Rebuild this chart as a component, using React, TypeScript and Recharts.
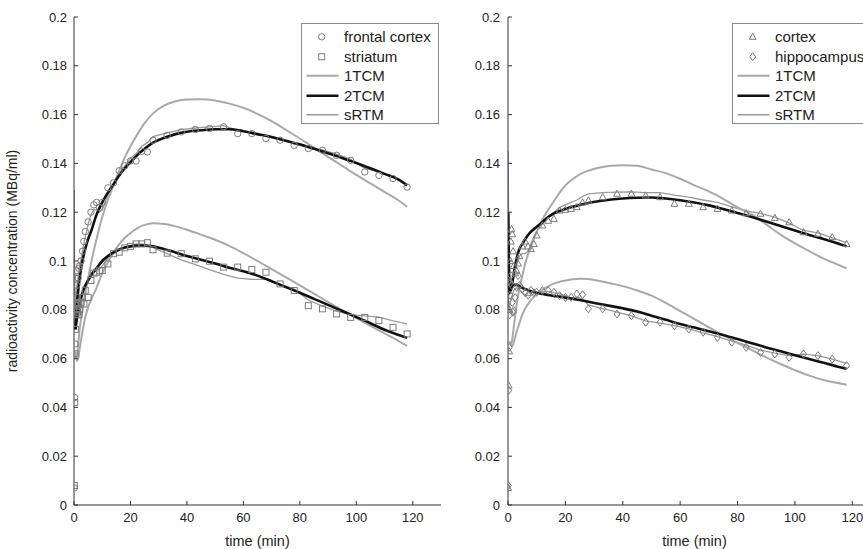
import React from 'react';
import { ComposedChart, Line, Scatter, XAxis, YAxis, Legend } from 'recharts';

// PET frame mid-times (min) for measured data and sRTM fits
const frameTimes = [0.1, 0.25, 0.4, 0.55, 0.7, 0.85, 1, 1.25, 1.5, 1.75, 2, 2.5, 3, 3.5, 4, 5, 6, 7, 8, 9, 10, 12, 14, 16, 18, 20, 22, 24, 26, 28, 33, 38, 43, 48, 53, 58, 63, 68, 73, 78, 83, 88, 93, 98, 103, 108, 113, 118];

// left panel measured data
const frontalCortex = [0.007, 0.044, 0.066, 0.082, 0.093, 0.096, 0.09, 0.085, 0.093, 0.097, 0.098, 0.1, 0.104, 0.108, 0.112, 0.116, 0.12, 0.123, 0.124, 0.122, 0.124, 0.13, 0.132, 0.137, 0.139, 0.141, 0.141, 0.145, 0.1447, 0.1495, 0.1515, 0.1529, 0.1539, 0.1543, 0.155, 0.1522, 0.1522, 0.1502, 0.1495, 0.1474, 0.1461, 0.1454, 0.1433, 0.1413, 0.1365, 0.1351, 0.1338, 0.1303];
const striatum = [0.008, 0.042, 0.062, 0.072, 0.078, 0.08, 0.083, 0.079, 0.082, 0.078, 0.08, 0.083, 0.085, 0.0824, 0.088, 0.0851, 0.092, 0.095, 0.0954, 0.096, 0.0961, 0.0988, 0.103, 0.1036, 0.1054, 0.106, 0.107, 0.107, 0.1075, 0.1046, 0.1032, 0.103, 0.1009, 0.0999, 0.0975, 0.0975, 0.0965, 0.0954, 0.0906, 0.0879, 0.0817, 0.0804, 0.0783, 0.0769, 0.0769, 0.0756, 0.0728, 0.0701];

// right panel measured data
const cortex = [0.007, 0.049, 0.063, 0.08, 0.092, 0.1, 0.108, 0.113, 0.111, 0.104, 0.098, 0.095, 0.096, 0.099, 0.102, 0.106, 0.108, 0.106, 0.105, 0.107, 0.1105, 0.1146, 0.1165, 0.1173, 0.1207, 0.121, 0.1214, 0.1221, 0.124, 0.1248, 0.1262, 0.1276, 0.1276, 0.1269, 0.1262, 0.1235, 0.1235, 0.1221, 0.1214, 0.1207, 0.1196, 0.1194, 0.1177, 0.1159, 0.1118, 0.1112, 0.1098, 0.107];
const hippocampus = [0.008, 0.047, 0.0646, 0.078, 0.086, 0.091, 0.094, 0.09, 0.083, 0.079, 0.0797, 0.085, 0.0892, 0.094, 0.09, 0.0885, 0.087, 0.086, 0.088, 0.087, 0.0872, 0.0879, 0.0879, 0.0872, 0.0858, 0.0851, 0.0851, 0.0865, 0.0862, 0.0804, 0.0804, 0.0783, 0.0776, 0.0749, 0.0749, 0.0735, 0.0721, 0.0708, 0.0687, 0.0667, 0.0646, 0.0625, 0.0619, 0.0605, 0.0619, 0.0612, 0.0598, 0.0571];

// sRTM fits (on frame times)
const frontalSrtm = [0.129, 0.09, 0.079, 0.082, 0.086, 0.089, 0.09, 0.091, 0.094, 0.096, 0.098, 0.101, 0.104, 0.107, 0.11, 0.115, 0.119, 0.121, 0.121, 0.12, 0.121, 0.127, 0.131, 0.136, 0.139, 0.142, 0.144, 0.147, 0.1485, 0.151, 0.1525, 0.1538, 0.1545, 0.155, 0.1555, 0.1535, 0.1527, 0.151, 0.15, 0.148, 0.1465, 0.1455, 0.1438, 0.1418, 0.138, 0.1365, 0.1345, 0.1315];
const striatumSrtm = [0.106, 0.08, 0.074, 0.075, 0.076, 0.077, 0.078, 0.079, 0.08, 0.081, 0.082, 0.084, 0.086, 0.088, 0.09, 0.093, 0.095, 0.096, 0.096, 0.0965, 0.098, 0.101, 0.103, 0.1045, 0.1055, 0.1063, 0.107, 0.107, 0.1065, 0.1055, 0.103, 0.1005, 0.0985, 0.0965, 0.0945, 0.093, 0.0925, 0.0925, 0.0905, 0.0885, 0.084, 0.0815, 0.0795, 0.078, 0.0775, 0.077, 0.0755, 0.0742];
const cortexSrtm = [0.145, 0.1, 0.088, 0.086, 0.087, 0.088, 0.089, 0.09, 0.091, 0.092, 0.093, 0.096, 0.098, 0.1, 0.102, 0.103, 0.103, 0.104, 0.107, 0.11, 0.112, 0.115, 0.118, 0.12, 0.122, 0.123, 0.124, 0.125, 0.1265, 0.1275, 0.128, 0.1282, 0.1283, 0.128, 0.128, 0.127, 0.1262, 0.125, 0.124, 0.1222, 0.1205, 0.1195, 0.118, 0.1155, 0.1125, 0.1115, 0.1095, 0.1075];
const hippocampusSrtm = [0.092, 0.082, 0.08, 0.081, 0.082, 0.083, 0.084, 0.085, 0.086, 0.087, 0.088, 0.0885, 0.089, 0.0885, 0.088, 0.087, 0.086, 0.0858, 0.086, 0.0865, 0.087, 0.0875, 0.0875, 0.087, 0.0865, 0.0858, 0.085, 0.0852, 0.0845, 0.082, 0.0805, 0.079, 0.0775, 0.0755, 0.0745, 0.0735, 0.0722, 0.0705, 0.069, 0.0672, 0.0655, 0.0635, 0.0622, 0.0612, 0.0618, 0.0612, 0.0598, 0.058];

// compartment model fits (smooth time grid)
const modelTimes = [0.1, 0.3, 0.5, 1, 1.5, 2, 3, 4, 5, 6, 8, 10, 12, 14, 16, 18, 20, 22.5, 25, 28, 32, 36, 40, 45, 50, 55, 60, 65, 70, 75, 80, 85, 90, 95, 100, 105, 110, 115, 118];
const frontal2tcm = [null, null, 0.072, 0.082, 0.088, 0.093, 0.1, 0.105, 0.109, 0.112, 0.119, 0.124, 0.128, 0.1315, 0.135, 0.138, 0.1405, 0.1435, 0.146, 0.1485, 0.1505, 0.152, 0.153, 0.1536, 0.154, 0.154, 0.1532, 0.152, 0.1508, 0.1493, 0.1478, 0.146, 0.1442, 0.1422, 0.1402, 0.138, 0.1357, 0.1334, 0.131];
const striatum2tcm = [null, null, 0.072, 0.076, 0.079, 0.082, 0.087, 0.09, 0.092, 0.094, 0.097, 0.1, 0.102, 0.1035, 0.1047, 0.1055, 0.106, 0.1063, 0.1063, 0.106, 0.1048, 0.1035, 0.102, 0.1005, 0.099, 0.0972, 0.0958, 0.094, 0.0917, 0.0893, 0.087, 0.0845, 0.082, 0.0795, 0.077, 0.0745, 0.0718, 0.0697, 0.0685];
const frontal1tcm = [null, null, 0.062, 0.061, 0.066, 0.072, 0.08, 0.087, 0.093, 0.099, 0.109, 0.118, 0.125, 0.131, 0.137, 0.1425, 0.147, 0.152, 0.1565, 0.1605, 0.1638, 0.1655, 0.1662, 0.1663, 0.1658, 0.1645, 0.1628, 0.1603, 0.1573, 0.1538, 0.1502, 0.1465, 0.1427, 0.139, 0.1353, 0.1318, 0.1283, 0.1248, 0.1222];
const striatum1tcm = [null, null, 0.063, 0.059, 0.06, 0.064, 0.071, 0.077, 0.081, 0.084, 0.089, 0.095, 0.0995, 0.1035, 0.1068, 0.1095, 0.1115, 0.1135, 0.1148, 0.1155, 0.1152, 0.1142, 0.1128, 0.1108, 0.1087, 0.1062, 0.1032, 0.1, 0.0967, 0.0934, 0.09, 0.0866, 0.0832, 0.0799, 0.0766, 0.0734, 0.0703, 0.0672, 0.0652];
const cortex2tcm = [0.12, 0.1, 0.09, 0.088, 0.091, 0.095, 0.101, 0.105, 0.107, 0.109, 0.112, 0.114, 0.116, 0.118, 0.1195, 0.1205, 0.1213, 0.1222, 0.123, 0.1238, 0.1246, 0.1252, 0.1256, 0.1259, 0.126, 0.1256, 0.1249, 0.124, 0.1228, 0.1213, 0.1197, 0.118, 0.1162, 0.1143, 0.1125, 0.1107, 0.109, 0.1072, 0.106];
const hippocampus2tcm = [null, 0.09, 0.087, 0.089, 0.0898, 0.0902, 0.0902, 0.0896, 0.089, 0.0885, 0.0876, 0.087, 0.0865, 0.0861, 0.0857, 0.0854, 0.085, 0.0845, 0.084, 0.0833, 0.0824, 0.0815, 0.0806, 0.0793, 0.0776, 0.0759, 0.0742, 0.0727, 0.0712, 0.0697, 0.068, 0.0663, 0.0646, 0.063, 0.0614, 0.0598, 0.0583, 0.0567, 0.0558];
const cortex1tcm = [null, null, 0.067, 0.066, 0.068, 0.0728, 0.082, 0.089, 0.094, 0.099, 0.106, 0.112, 0.117, 0.121, 0.1245, 0.128, 0.131, 0.1335, 0.1355, 0.137, 0.1383, 0.139, 0.1392, 0.139, 0.1375, 0.136, 0.1337, 0.131, 0.1285, 0.1255, 0.122, 0.119, 0.115, 0.1108, 0.1072, 0.104, 0.101, 0.0985, 0.097];
const hippocampus1tcm = [null, null, 0.067, 0.066, 0.065, 0.0667, 0.071, 0.0745, 0.078, 0.0805, 0.084, 0.0865, 0.0883, 0.0896, 0.0907, 0.0915, 0.092, 0.0925, 0.0927, 0.0926, 0.0918, 0.0908, 0.0897, 0.0879, 0.0858, 0.0828, 0.0795, 0.0762, 0.0728, 0.0695, 0.0665, 0.0635, 0.0605, 0.0578, 0.0553, 0.053, 0.0512, 0.05, 0.0493];

const xTicks = [0, 20, 40, 60, 80, 100, 120];
const yTicks = [0, 0.02, 0.04, 0.06, 0.08, 0.1, 0.12, 0.14, 0.16, 0.18, 0.2];

const leftLegend = ['frontal cortex', 'striatum', '1TCM', '2TCM', 'sRTM'];
const rightLegend = ['cortex', 'hippocampus', '1TCM', '2TCM', 'sRTM'];

const pts = (ts: number[], vs: (number | null)[]) =>
  ts.map((t, i) => ({ t, v: vs[i] })).filter((d) => d.v !== null && d.v !== undefined);

const MARK = '#7c7c7c';
const GRAY1 = '#a9a9a9';
const GRAY2 = '#9a9a9a';
const BLACK = '#111';
const FONT = '"Liberation Sans", Arial, Helvetica, sans-serif';

type MarkKind = 'circle' | 'square' | 'triangle' | 'diamond';

function markerEl(kind: MarkKind, cx: number, cy: number, key?: any) {
  const common = { fill: 'none', stroke: MARK, strokeWidth: 1 } as any;
  if (kind === 'circle') return <circle key={key} cx={cx} cy={cy} r={3.2} {...common} />;
  if (kind === 'square') return <rect key={key} x={cx - 3} y={cy - 3} width={6} height={6} {...common} />;
  if (kind === 'triangle')
    return <path key={key} d={`M${cx},${cy - 3.6}L${cx + 3.4},${cy + 2.6}L${cx - 3.4},${cy + 2.6}Z`} {...common} />;
  return <path key={key} d={`M${cx},${cy - 4}L${cx + 3},${cy}L${cx},${cy + 4}L${cx - 3},${cy}Z`} {...common} />;
}

const shapeFor = (kind: MarkKind) => (p: any) => {
  if (p.cx == null || p.cy == null) return <g />;
  return markerEl(kind, p.cx, p.cy);
};

function LegendBox({ labels, markA, markB }: { labels: string[]; markA: MarkKind; markB: MarkKind }) {
  const rowH = 19.5;
  return (
    <div
      style={{
        position: 'relative',
        width: 136,
        height: 99,
        border: '1px solid #8c8c8c',
        background: '#fff',
        fontFamily: FONT,
        fontSize: 15,
        color: '#222',
      }}
    >
      {labels.map((lab, i) => (
        <div key={i} style={{ position: 'absolute', left: 0, top: 3 + i * rowH, height: rowH, width: 200 }}>
          <svg width={40} height={rowH} style={{ position: 'absolute', left: 0, top: 0 }}>
            {i === 0 && markerEl(markA, 19.7, rowH / 2)}
            {i === 1 && markerEl(markB, 19.7, rowH / 2)}
            {i === 2 && <line x1={4.5} x2={36.5} y1={rowH / 2} y2={rowH / 2} stroke={GRAY1} strokeWidth={2} />}
            {i === 3 && <line x1={4.5} x2={36.5} y1={rowH / 2} y2={rowH / 2} stroke={BLACK} strokeWidth={2.6} />}
            {i === 4 && <line x1={4.5} x2={36.5} y1={rowH / 2} y2={rowH / 2} stroke={GRAY2} strokeWidth={1.3} />}
          </svg>
          <span style={{ position: 'absolute', left: 42, top: 0, lineHeight: `${rowH}px`, whiteSpace: 'nowrap' }}>
            {lab}
          </span>
        </div>
      ))}
    </div>
  );
}

interface PanelProps {
  left: number;
  yAxisWidth: number;
  yTickMargin: number;
  showYLabel: boolean;
  dataA: number[];
  dataB: number[];
  markA: MarkKind;
  markB: MarkKind;
  srtmA: number[];
  srtmB: number[];
  tcm1A: (number | null)[];
  tcm1B: (number | null)[];
  tcm2A: (number | null)[];
  tcm2B: (number | null)[];
  labels: string[];
  legendLeft: number;
}

function Panel(p: PanelProps) {
  const tick = { fill: '#222', fontSize: 13, fontFamily: FONT };
  return (
    <div style={{ position: 'absolute', left: p.left, top: 0 }}>
      <ComposedChart width={450} height={549} margin={{ top: 17, right: 9, bottom: 0, left: 0 }}>
        <XAxis
          type="number"
          dataKey="t"
          domain={[0, 130]}
          ticks={xTicks}
          allowDataOverflow
          height={44}
          tick={tick}
          tickSize={-4}
          tickMargin={12}
          stroke="#333"
          label={{ value: 'time (min)', position: 'insideBottom', offset: 3, fill: '#222', fontSize: 14.5 }}
        />
        <YAxis
          type="number"
          dataKey="v"
          domain={[0, 0.2]}
          ticks={yTicks}
          allowDataOverflow
          width={p.yAxisWidth}
          tick={tick}
          tickSize={-4}
          tickMargin={p.yTickMargin}
          stroke="#333"
          label={
            p.showYLabel
              ? {
                  value: 'radioactivity concentration (MBq/ml)',
                  angle: -90,
                  position: 'insideLeft',
                  offset: 12,
                  fill: '#222',
                  fontSize: 14,
                  style: { textAnchor: 'middle' },
                }
              : undefined
          }
        />
        <Scatter data={pts(frameTimes, p.dataA)} dataKey="v" shape={shapeFor(p.markA)} isAnimationActive={false} />
        <Scatter data={pts(frameTimes, p.dataB)} dataKey="v" shape={shapeFor(p.markB)} isAnimationActive={false} />
        <Line data={pts(frameTimes, p.srtmA)} dataKey="v" type="linear" stroke={GRAY2} strokeWidth={1.3} dot={false} activeDot={false} isAnimationActive={false} />
        <Line data={pts(frameTimes, p.srtmB)} dataKey="v" type="linear" stroke={GRAY2} strokeWidth={1.3} dot={false} activeDot={false} isAnimationActive={false} />
        <Line data={pts(modelTimes, p.tcm1A)} dataKey="v" type="monotone" stroke={GRAY1} strokeWidth={2} dot={false} activeDot={false} isAnimationActive={false} />
        <Line data={pts(modelTimes, p.tcm1B)} dataKey="v" type="monotone" stroke={GRAY1} strokeWidth={2} dot={false} activeDot={false} isAnimationActive={false} />
        <Line data={pts(modelTimes, p.tcm2A)} dataKey="v" type="monotone" stroke={BLACK} strokeWidth={2.6} dot={false} activeDot={false} isAnimationActive={false} />
        <Line data={pts(modelTimes, p.tcm2B)} dataKey="v" type="monotone" stroke={BLACK} strokeWidth={2.6} dot={false} activeDot={false} isAnimationActive={false} />
        <Legend
          layout="vertical"
          align="center"
          verticalAlign="middle"
          wrapperStyle={{ left: p.legendLeft, top: 23, width: 138, height: 101 }}
          content={() => <LegendBox labels={p.labels} markA={p.markA} markB={p.markB} />}
        />
      </ComposedChart>
    </div>
  );
}

export default function App() {
  return (
    <div
      style={{
        position: 'absolute',
        left: 0,
        top: 0,
        width: 863,
        height: 549,
        overflow: 'hidden',
        background: '#fff',
        fontFamily: FONT,
      }}
    >
      <Panel
        left={0}
        yAxisWidth={74}
        yTickMargin={11}
        showYLabel
        dataA={frontalCortex}
        dataB={striatum}
        markA="circle"
        markB="square"
        srtmA={frontalSrtm}
        srtmB={striatumSrtm}
        tcm1A={frontal1tcm}
        tcm1B={striatum1tcm}
        tcm2A={frontal2tcm}
        tcm2B={striatum2tcm}
        labels={leftLegend}
        legendLeft={301}
      />
      <Panel
        left={440}
        yAxisWidth={68}
        yTickMargin={12}
        showYLabel={false}
        dataA={cortex}
        dataB={hippocampus}
        markA="triangle"
        markB="diamond"
        srtmA={cortexSrtm}
        srtmB={hippocampusSrtm}
        tcm1A={cortex1tcm}
        tcm1B={hippocampus1tcm}
        tcm2A={cortex2tcm}
        tcm2B={hippocampus2tcm}
        labels={rightLegend}
        legendLeft={292}
      />
    </div>
  );
}
